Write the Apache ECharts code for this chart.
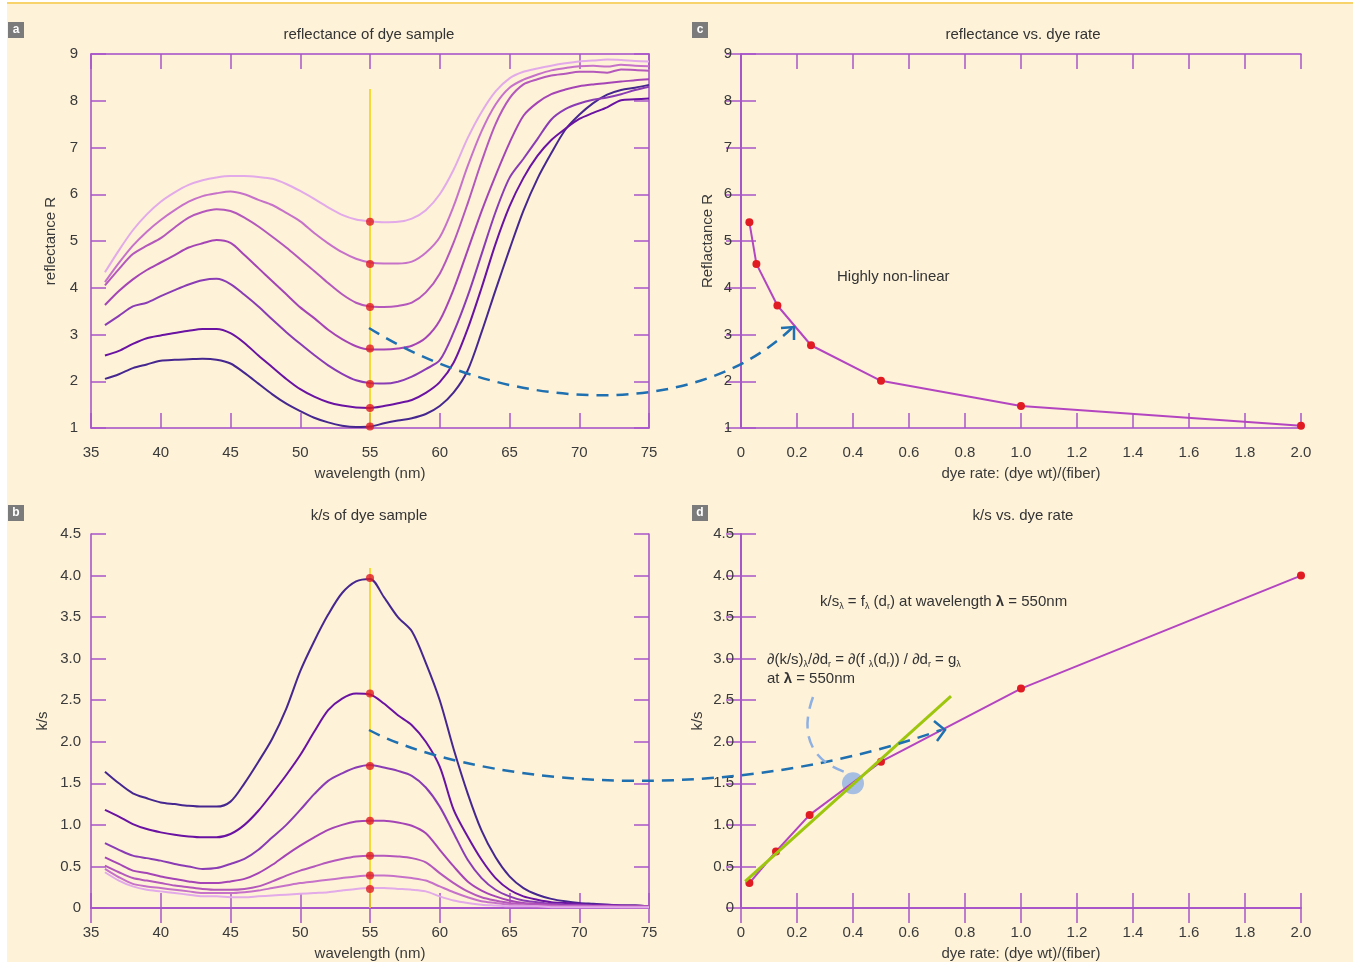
<!DOCTYPE html>
<html>
<head>
<meta charset="utf-8">
<script src="https://cdn.jsdelivr.net/npm/echarts/dist/echarts.min.js"></script>
<style>
  html, body { margin: 0; padding: 0; background: #ffffff; }
  #chart { width: 1359px; height: 962px; }
</style>
</head>
<body>
<div id="chart"></div>
<script>
// ---- data ----
const wavelength = [36,37,38,39,40,41,42,43,44,45,46,47,48,49,50,51,52,53,54,55,
                    56,57,58,59,60,61,62,63,64,65,66,67,68,69,70,71,72,73,74,75];

// reflectance curves, darkest (most dye) first
const refl1 = [2.05,2.15,2.28,2.36,2.44,2.46,2.47,2.48,2.46,2.38, 2.18,1.95,1.72,1.52,1.36,1.22,1.12,1.05,1.02,1.03,
               1.10,1.16,1.21,1.30,1.47,1.76,2.23,3.05,3.95,4.82, 5.65,6.33,6.88,7.38,7.70,7.95,8.13,8.23,8.28,8.34];
const refl2 = [2.55,2.65,2.80,2.92,2.98,3.03,3.08,3.12,3.12,3.03, 2.82,2.55,2.30,2.05,1.83,1.67,1.55,1.48,1.44,1.43,
               1.47,1.53,1.60,1.75,1.98,2.40,3.12,4.00,4.94,5.74, 6.35,6.82,7.16,7.40,7.61,7.74,7.86,8.01,8.03,8.05];
const refl3 = [3.20,3.40,3.60,3.68,3.82,3.95,4.07,4.16,4.19,4.08, 3.85,3.60,3.32,3.05,2.80,2.56,2.34,2.16,2.02,1.96,
               1.95,1.99,2.10,2.26,2.45,3.05,3.82,4.72,5.62,6.35, 6.76,7.18,7.60,7.82,7.94,8.02,8.07,8.14,8.23,8.30];
const refl4 = [3.63,3.93,4.18,4.38,4.54,4.70,4.86,4.95,5.02,4.96, 4.70,4.42,4.14,3.86,3.58,3.35,3.10,2.90,2.75,2.68,
               2.68,2.70,2.76,2.93,3.30,3.97,4.80,5.64,6.40,7.10, 7.68,7.96,8.14,8.24,8.31,8.35,8.38,8.41,8.44,8.46];
const refl5 = [4.05,4.40,4.72,4.90,5.06,5.29,5.50,5.62,5.68,5.64, 5.50,5.31,5.09,4.86,4.61,4.36,4.10,3.86,3.68,3.60,
               3.59,3.61,3.68,3.90,4.30,4.97,5.80,6.70,7.50,8.05, 8.35,8.46,8.54,8.58,8.62,8.62,8.60,8.67,8.66,8.64];
const refl6 = [4.12,4.53,4.90,5.20,5.45,5.66,5.84,5.96,6.02,6.06, 6.00,5.88,5.77,5.60,5.42,5.17,4.95,4.76,4.62,4.54,
               4.52,4.52,4.56,4.75,5.08,5.75,6.60,7.35,7.92,8.28, 8.45,8.56,8.65,8.70,8.74,8.75,8.73,8.77,8.75,8.74];
const refl7 = [4.33,4.80,5.23,5.57,5.84,6.04,6.20,6.30,6.36,6.39, 6.39,6.37,6.33,6.22,6.07,5.90,5.72,5.56,5.46,5.42,
               5.40,5.41,5.48,5.66,6.00,6.53,7.20,7.76,8.20,8.48, 8.62,8.69,8.75,8.80,8.84,8.86,8.88,8.87,8.85,8.84];

// k/s curves, darkest first
const ks1 = [1.64,1.50,1.38,1.32,1.27,1.25,1.23,1.22,1.22,1.28, 1.50,1.76,2.04,2.40,2.85,3.21,3.53,3.79,3.93,3.96,
             3.74,3.50,3.33,2.95,2.50,1.91,1.38,0.93,0.61,0.38, 0.24,0.16,0.11,0.08,0.06,0.05,0.04,0.03,0.03,0.02];
const ks2 = [1.18,1.10,1.01,0.95,0.91,0.88,0.86,0.85,0.85,0.89, 1.00,1.17,1.38,1.60,1.84,2.12,2.38,2.52,2.58,2.57,
             2.46,2.32,2.20,2.00,1.70,1.18,0.86,0.58,0.36,0.22, 0.14,0.10,0.07,0.06,0.05,0.04,0.04,0.03,0.03,0.02];
const ks3 = [0.78,0.70,0.63,0.60,0.57,0.53,0.50,0.47,0.48,0.53, 0.59,0.70,0.85,1.00,1.18,1.37,1.53,1.62,1.69,1.72,
             1.69,1.65,1.59,1.45,1.22,0.90,0.58,0.36,0.22,0.14, 0.09,0.07,0.05,0.04,0.04,0.03,0.03,0.03,0.02,0.02];
const ks4 = [0.61,0.53,0.45,0.42,0.38,0.35,0.32,0.30,0.30,0.32, 0.35,0.42,0.52,0.64,0.75,0.85,0.94,1.00,1.04,1.05,
             1.05,1.03,0.99,0.90,0.70,0.50,0.32,0.21,0.14,0.09, 0.06,0.05,0.04,0.03,0.03,0.02,0.02,0.02,0.02,0.02];
const ks5 = [0.51,0.43,0.36,0.33,0.30,0.27,0.25,0.23,0.22,0.22, 0.23,0.26,0.32,0.39,0.45,0.50,0.55,0.59,0.62,0.63,
             0.63,0.62,0.60,0.55,0.42,0.30,0.20,0.13,0.09,0.06, 0.05,0.04,0.03,0.02,0.02,0.02,0.02,0.02,0.02,0.02];
const ks6 = [0.47,0.37,0.29,0.26,0.24,0.22,0.20,0.18,0.18,0.18, 0.19,0.21,0.24,0.27,0.30,0.32,0.34,0.36,0.38,0.39,
             0.39,0.38,0.36,0.33,0.26,0.19,0.13,0.08,0.06,0.04, 0.03,0.02,0.02,0.02,0.02,0.02,0.02,0.01,0.01,0.01];
const ks7 = [0.43,0.33,0.26,0.22,0.20,0.18,0.16,0.14,0.14,0.13, 0.13,0.14,0.15,0.16,0.17,0.18,0.19,0.21,0.23,0.24,
             0.24,0.23,0.22,0.20,0.14,0.09,0.06,0.04,0.03,0.02, 0.02,0.02,0.01,0.01,0.01,0.01,0.01,0.01,0.01,0.01];

// sampled points at 550 nm
const sampleWave = 55;
const reflAt55 = [1.03, 1.43, 1.94, 2.70, 3.59, 4.51, 5.41];
const ksAt55   = [3.97, 2.58, 1.71, 1.05, 0.63, 0.39, 0.23];
const cursorSpanA = [1, 8.25];
const cursorSpanB = [0, 4.09];

// panel c: reflectance vs dye rate
const dyeRateC = [0.03, 0.055, 0.13, 0.25, 0.5, 1.0, 2.0];
const reflC    = [5.40, 4.51, 3.62, 2.77, 2.01, 1.47, 1.05];

// panel d: k/s vs dye rate
const dyeRateD = [0.03, 0.125, 0.245, 0.5, 1.0, 2.0];
const ksD      = [0.30, 0.68, 1.12, 1.76, 2.64, 4.00];
const tangentX = [0.015, 0.75];
const tangentY = [0.32, 2.55];
const contactPoint = [0.4, 1.5];

// ---- styles ----
const curveColors = ['#46278f','#6a12a2','#8a3cb4','#a545b5','#b458bb','#c772c9','#e2aae8'];
const frame = '#a24cc8';
const tickCol = '#a855c8';
const txt = '#3a3a3a';
const font = 'Liberation Sans, Arial, sans-serif';
const dotRed = '#e01b22';
const lineMag = '#b445c0';

function fmt1(v) { return v === 0 ? '0' : v.toFixed(1); }
function fmt0(v) { return String(v); }

function xPair(gi, min, max, interval, name, f) {
  const base = {
    gridIndex: gi, type: 'value', min: min, max: max, interval: interval,
    splitLine: { show: false },
    axisLine: { lineStyle: { color: frame, width: 1.5 } },
    axisTick: { inside: true, length: 15, lineStyle: { color: tickCol, width: 1.5 } }
  };
  return [
    Object.assign({}, base, {
      position: 'bottom',
      axisLabel: { color: txt, fontSize: 15, fontFamily: font, margin: 17, formatter: f },
      name: name, nameLocation: 'middle', nameGap: 38,
      nameTextStyle: { color: txt, fontSize: 15, fontFamily: font }
    }),
    Object.assign({}, base, { position: 'top', axisLabel: { show: false } })
  ];
}
function yPair(gi, min, max, interval, name, gap, margin, f) {
  const base = {
    gridIndex: gi, type: 'value', min: min, max: max, interval: interval,
    splitLine: { show: false },
    axisLine: { lineStyle: { color: frame, width: 1.5 } },
    axisTick: { inside: true, length: 15, lineStyle: { color: tickCol, width: 1.5 } }
  };
  return [
    Object.assign({}, base, {
      position: 'left',
      axisLabel: { color: txt, fontSize: 15, fontFamily: font, margin: margin, formatter: f },
      name: name, nameLocation: 'middle', nameGap: gap,
      nameTextStyle: { color: txt, fontSize: 15, fontFamily: font }
    }),
    Object.assign({}, base, { position: 'right', axisLabel: { show: false } })
  ];
}

const gridBase = { containLabel: false, outerBoundsMode: 'none' };
const grids = [
  Object.assign({ left: 91,  top: 54,  width: 558, height: 374 }, gridBase), // a
  Object.assign({ left: 91,  top: 534, width: 558, height: 374 }, gridBase), // b
  Object.assign({ left: 741, top: 54,  width: 560, height: 374 }, gridBase), // c
  Object.assign({ left: 741, top: 534, width: 560, height: 374 }, gridBase)  // d
];

const xAxes = [].concat(
  xPair(0, 35, 75, 5, 'wavelength (nm)', fmt0),
  xPair(1, 35, 75, 5, 'wavelength (nm)', fmt0),
  xPair(2, 0, 2, 0.2, 'dye rate: (dye wt)/(fiber)', fmt1),
  xPair(3, 0, 2, 0.2, 'dye rate: (dye wt)/(fiber)', fmt1)
);
const yAxes = [].concat(
  yPair(0, 1, 9, 1, 'reflectance R', 33, 13, fmt0),
  yPair(1, 0, 4.5, 0.5, 'k/s', 41, 10, fmt1),
  yPair(2, 1, 9, 1, 'Reflactance R', 26, 9, fmt0),
  yPair(3, 0, 4.5, 0.5, 'k/s', 36, 7, fmt1)
);

const series = [];
const reflCurves = [refl1, refl2, refl3, refl4, refl5, refl6, refl7];
const ksCurves = [ks1, ks2, ks3, ks4, ks5, ks6, ks7];

// yellow cursor lines at 550 nm
series.push({ type: 'line', xAxisIndex: 0, yAxisIndex: 0, silent: true, showSymbol: false,
  data: cursorSpanA.map(v => [sampleWave, v]), lineStyle: { color: '#f3cf00', width: 1.5 }, z: 1 });
series.push({ type: 'line', xAxisIndex: 2, yAxisIndex: 2, silent: true, showSymbol: false,
  data: cursorSpanB.map(v => [sampleWave, v]), lineStyle: { color: '#f3cf00', width: 1.5 }, z: 1 });

reflCurves.forEach((arr, i) => {
  series.push({ type: 'line', xAxisIndex: 0, yAxisIndex: 0, showSymbol: false, smooth: 0.3,
    data: wavelength.map((w, j) => [w, arr[j]]),
    lineStyle: { color: curveColors[i], width: 2 }, z: 2 });
});
ksCurves.forEach((arr, i) => {
  series.push({ type: 'line', xAxisIndex: 2, yAxisIndex: 2, showSymbol: false, smooth: 0.3,
    data: wavelength.map((w, j) => [w, arr[j]]),
    lineStyle: { color: curveColors[i], width: 2 }, z: 2 });
});
series.push({ type: 'scatter', xAxisIndex: 0, yAxisIndex: 0, symbolSize: 8,
  data: reflAt55.map(v => [sampleWave, v]), itemStyle: { color: dotRed }, z: 5 });
series.push({ type: 'scatter', xAxisIndex: 2, yAxisIndex: 2, symbolSize: 8,
  data: ksAt55.map(v => [sampleWave, v]), itemStyle: { color: dotRed }, z: 5 });

// panel c
series.push({ type: 'line', xAxisIndex: 4, yAxisIndex: 4, symbol: 'circle', symbolSize: 8,
  data: dyeRateC.map((d, i) => [d, reflC[i]]),
  lineStyle: { color: lineMag, width: 2 }, itemStyle: { color: dotRed }, z: 3 });

// panel d
series.push({ type: 'scatter', xAxisIndex: 6, yAxisIndex: 6, symbolSize: 22,
  data: [contactPoint], itemStyle: { color: '#8fb0e2' }, z: 2 });
series.push({ type: 'line', xAxisIndex: 6, yAxisIndex: 6, symbol: 'circle', symbolSize: 8,
  data: dyeRateD.map((d, i) => [d, ksD[i]]),
  lineStyle: { color: lineMag, width: 2 }, itemStyle: { color: dotRed }, z: 3 });
series.push({ type: 'line', xAxisIndex: 6, yAxisIndex: 6, showSymbol: false,
  data: tangentX.map((d, i) => [d, tangentY[i]]),
  lineStyle: { color: '#9ec60e', width: 3 }, z: 4 });

function label(x, y, ch) {
  return [
    { type: 'rect', shape: { x: x, y: y, width: 16, height: 16 }, style: { fill: '#7b7b7b' }, z: 10 },
    { type: 'text', x: x + 8, y: y + 8, z: 11,
      style: { text: ch, fill: '#fff', font: 'bold 12px ' + font, align: 'center', verticalAlign: 'middle',
               textAlign: 'center', textVerticalAlign: 'middle' } }
  ];
}
function title(x, y, t) {
  return { type: 'text', x: x, y: y, z: 10,
    style: { text: t, fill: '#333', font: '15px ' + font, align: 'center', verticalAlign: 'middle',
             textAlign: 'center', textVerticalAlign: 'middle' } };
}
const richStyle = {
  s: { fontSize: 9, fontFamily: font, fill: '#333', color: '#333', padding: [10, 0, 0, 0] },
  b: { fontSize: 15, fontFamily: font, fontWeight: 'bold', fill: '#333', color: '#333' }
};
function note(x, y, t) {
  return { type: 'text', x: x, y: y, z: 10,
    style: { text: t, fill: '#333', font: '15px ' + font, rich: richStyle,
             verticalAlign: 'middle', textVerticalAlign: 'middle' } };
}
const dash = { stroke: '#1f70b0', lineWidth: 2.5, lineDash: [12, 8], fill: null };

const graphics = [
  { type: 'rect', shape: { x: 7, y: 2, width: 1346, height: 2 }, style: { fill: '#f8d26a' }, z: -10 },
  { type: 'rect', shape: { x: 7, y: 4, width: 1346, height: 958 }, style: { fill: '#fef2d9' }, z: -10 }
].concat(
  label(8, 22, 'a'), label(692, 22, 'c'), label(8, 505, 'b'), label(692, 505, 'd'),
  [
    title(369, 35, 'reflectance of dye sample'),
    title(1023, 35, 'reflectance vs. dye rate'),
    title(369, 516, 'k/s of dye sample'),
    title(1023, 516, 'k/s vs. dye rate'),
    note(837, 277, 'Highly non-linear'),
    note(820, 602, 'k/s{s|λ} = f{s|λ} (d{s|r}) at wavelength {b|λ} = 550nm'),
    note(767, 660, '∂(k/s){s|λ}/∂d{s|r} = ∂(f {s|λ}(d{s|r})) / ∂d{s|r} = g{s|λ}'),
    note(767, 679, 'at {b|λ} = 550nm'),
    { type: 'bezierCurve', z: 20, silent: true,
      shape: { x1: 369, y1: 328, cpx1: 500, cpy1: 410, cpx2: 690, cpy2: 425, x2: 792, y2: 328 }, style: dash },
    { type: 'polyline', z: 20, shape: { points: [[781, 328], [794, 327], [794, 340]] },
      style: { stroke: '#1f70b0', lineWidth: 2.5, fill: null } },
    { type: 'bezierCurve', z: 20, silent: true,
      shape: { x1: 369, y1: 730, cpx1: 460, cpy1: 778, cpx2: 700, cpy2: 815, x2: 941, y2: 730 }, style: dash },
    { type: 'polyline', z: 20, shape: { points: [[934, 721], [945, 730], [937, 741]] },
      style: { stroke: '#1f70b0', lineWidth: 2.5, fill: null } },
    { type: 'bezierCurve', z: 20, silent: true,
      shape: { x1: 813, y1: 697, cpx1: 798, cpy1: 738, cpx2: 815, cpy2: 762, x2: 845, y2: 772 },
      style: { stroke: '#8fb0e2', lineWidth: 2.5, lineDash: [12, 8], fill: null } }
  ]
);

const chart = echarts.init(document.getElementById('chart'));
chart.setOption({
  backgroundColor: '#ffffff',
  animation: false,
  grid: grids,
  xAxis: xAxes,
  yAxis: yAxes,
  series: series,
  graphic: graphics
});
</script>
</body>
</html>
